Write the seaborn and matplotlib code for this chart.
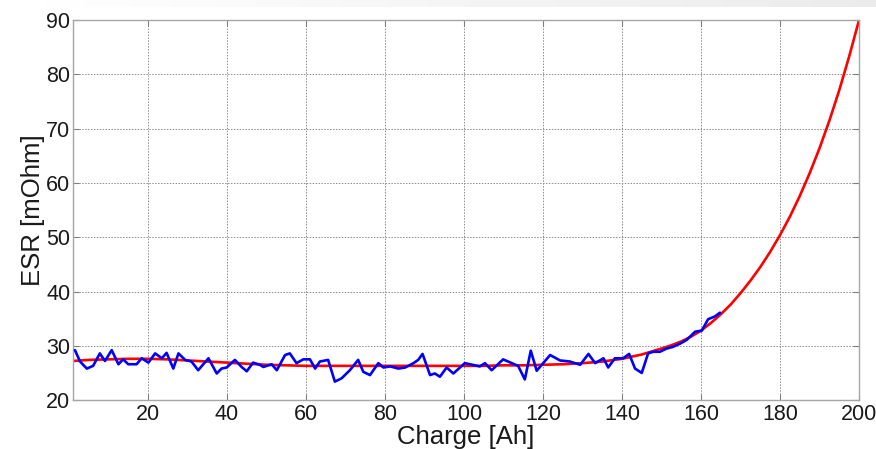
import numpy as np
import matplotlib
matplotlib.use("Agg")
import matplotlib.pyplot as plt
import seaborn as sns

# Measured ESR versus extracted charge
charge_meas = [1.5, 2.8, 4.5, 6.1, 7.8, 9.1, 10.8, 12.5, 13.7, 15.0, 17.1, 18.4, 20.1,
               21.8, 23.5, 24.7, 26.4, 27.7, 29.4, 31.0, 32.7, 35.3, 37.4, 38.6, 39.9,
               42.0, 43.7, 45.0, 46.6, 48.3, 49.2, 51.3, 52.6, 54.7, 55.9, 57.6, 59.3,
               61.0, 62.3, 63.5, 65.6, 67.3, 69.0, 71.1, 73.2, 74.5, 76.2, 78.3, 79.6,
               81.3, 83.4, 85.1, 87.2, 88.4, 89.5, 91.4, 92.6, 93.9, 95.6, 97.3, 100.2,
               101.5, 104.0, 105.3, 107.0, 109.9, 112.1, 113.7, 115.4, 116.9, 118.4,
               121.8, 124.3, 126.8, 129.4, 131.5, 133.2, 135.3, 136.5, 138.2, 140.3,
               141.8, 143.3, 145.0, 146.6, 147.9, 149.6, 151.3, 152.9, 154.7, 156.4,
               158.5, 160.2, 161.8, 163.5, 164.8]
esr_meas = [29.2, 27.1, 25.8, 26.3, 28.6, 27.2, 29.2, 26.6, 27.5, 26.6, 26.6, 27.7, 26.9,
            28.6, 27.7, 28.7, 25.8, 28.6, 27.4, 27.1, 25.5, 27.7, 24.9, 25.8, 26.0,
            27.4, 26.1, 25.3, 26.9, 26.5, 26.1, 26.6, 25.5, 28.3, 28.6, 26.8, 27.5,
            27.5, 25.8, 27.1, 27.4, 23.4, 24.0, 25.5, 27.4, 25.2, 24.6, 26.8, 26.0,
            26.2, 25.8, 26.0, 26.8, 27.4, 28.5, 24.6, 24.9, 24.3, 26.0, 24.9, 26.8,
            26.6, 26.2, 26.8, 25.5, 27.5, 26.8, 26.3, 23.8, 29.1, 25.4,
            28.3, 27.3, 27.1, 26.5, 28.5, 26.8, 27.7, 26.0, 27.7, 27.7,
            28.5, 25.8, 25.0, 28.6, 28.9, 28.9, 29.5, 29.8, 30.4, 31.1,
            32.6, 32.8, 34.9, 35.4, 36.1]

# Fitted ESR model
charge_fit = [1, 5, 10, 15, 20, 25, 30, 35, 40, 45, 50, 55, 60, 65, 70, 75, 80, 85, 90,
              95, 100, 105, 110, 115, 120, 125, 130, 135, 140, 145, 150, 152.5, 155,
              157.5, 160, 162.5, 165, 167.5, 170, 172.5, 175, 177.5, 180, 182.5, 185,
              187.5, 190, 192.5, 195, 197.5, 200]
esr_fit = [27.2, 27.4, 27.5, 27.6, 27.6, 27.5, 27.3, 27.1, 26.9, 26.7, 26.5, 26.4, 26.3,
           26.3, 26.3, 26.3, 26.3, 26.3, 26.3, 26.3, 26.3, 26.3, 26.4, 26.4, 26.5, 26.6,
           26.8, 27.1, 27.6, 28.4, 29.5, 30.1, 30.8, 31.7, 32.8, 34.2, 35.8, 37.6,
           39.7, 42.0, 44.5, 47.3, 50.4, 53.8, 57.6, 61.8, 66.4, 71.5, 77.1, 83.3, 90.0]

x_ticks = [20, 40, 60, 80, 100, 120, 140, 160, 180, 200]
y_ticks = [20, 30, 40, 50, 60, 70, 80, 90]

sns.set_style("white")
plt.rcParams["font.family"] = ["Liberation Sans", "DejaVu Sans"]

fig = plt.figure(figsize=(8.76, 4.49), dpi=100)

# faint grey band along the top edge
band = fig.add_axes([0, 0.985, 1, 0.015])
band.imshow(np.linspace(1.0, 0.92, 256)[None, :], aspect="auto", cmap="gray",
            vmin=0, vmax=1, extent=[0, 1, 0, 1])
band.axis("off")

ax = fig.add_axes([0.0833, 0.109, 0.8973, 0.846])

sns.lineplot(x=charge_meas, y=esr_meas, ax=ax, color="#0000ff", linewidth=1.9,
             sort=False, zorder=3)
sns.lineplot(x=charge_fit, y=esr_fit, ax=ax, color="#ff0000", linewidth=1.9,
             zorder=2)

ax.set_xlim(1, 200)
ax.set_ylim(20, 90)
ax.set_xticks(x_ticks)
ax.set_yticks(y_ticks)
ax.grid(True, color="#8c8c8c", linestyle=(0, (1.5, 1.5)), linewidth=0.7)
ax.tick_params(axis="both", which="both", direction="in", length=4, width=0.8,
               color="#808080", labelsize=15.5, labelcolor="#1a1a1a",
               top=True, right=True, bottom=True, left=True)
ax.tick_params(axis="y", pad=2)
ax.tick_params(axis="x", pad=3)
for s in ax.spines.values():
    s.set_color("#a6a6a6")
    s.set_linewidth(1.0)

ax.set_xlabel("Charge [Ah]", fontsize=18.5, color="#1a1a1a", labelpad=-0.5)
ax.set_ylabel("ESR [mOhm]", fontsize=18.5, color="#1a1a1a", labelpad=1)

fig.savefig("out.png", dpi=100)
